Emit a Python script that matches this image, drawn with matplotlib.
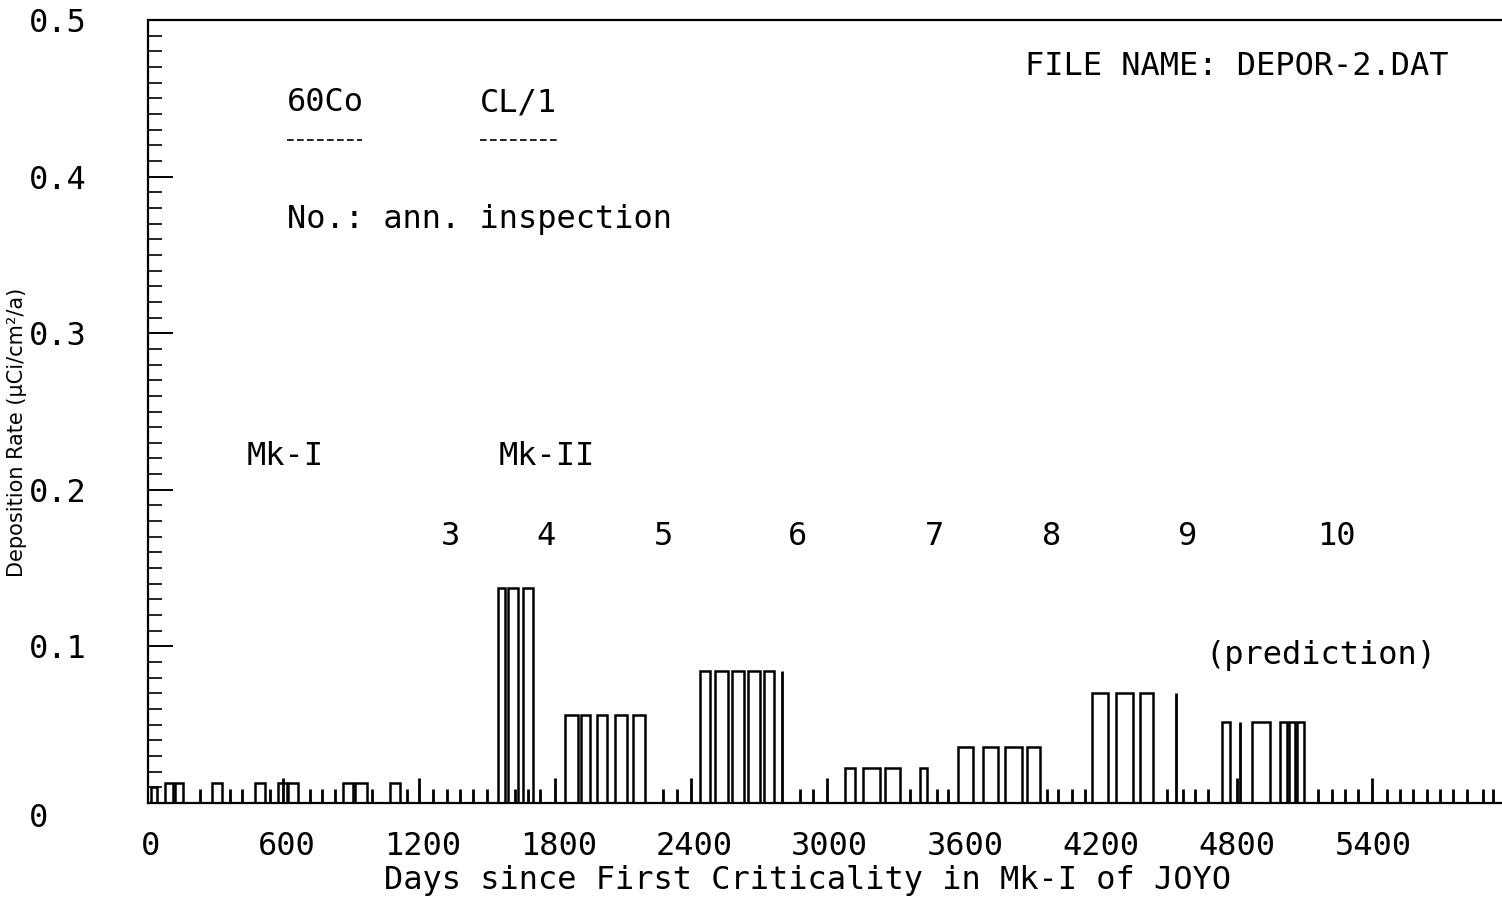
import numpy as np
import matplotlib.pyplot as plt
from matplotlib.ticker import MultipleLocator

# bars: left edge (days), width (days), deposition rate
bar_left = [1, 63, 107, 271, 461, 562, 607, 850, 902, 1057,
            1534, 1578, 1644,
            1830, 1901, 1972, 2051, 2130,
            2426, 2492, 2568, 2639, 2709,
            3067, 3147, 3243, 3398,
            3565, 3676, 3773, 3871,
            4158, 4264, 4370,
            4732, 4865, 4988, 5028, 5063]
bar_width = [27, 36, 36, 44, 44, 40, 44, 44, 53, 44,
             31, 45, 45,
             58, 40, 44, 53, 53,
             44, 58, 53, 53, 44,
             44, 75, 67, 31,
             67, 66, 75, 57,
             71, 75, 58,
             35, 79, 31, 26, 31]
bar_height = [0.010, 0.0128, 0.0128, 0.0128, 0.0128, 0.0128, 0.0128, 0.0128, 0.0128, 0.0128,
              0.137, 0.137, 0.137,
              0.056, 0.056, 0.056, 0.056, 0.056,
              0.084, 0.084, 0.084, 0.084, 0.084,
              0.0224, 0.0224, 0.0224, 0.0224,
              0.036, 0.036, 0.036, 0.036,
              0.070, 0.070, 0.070,
              0.052, 0.052, 0.052, 0.052, 0.052]

# short single-day spikes
spike_day = [218, 350, 403, 527, 584, 703, 756, 814, 977, 1132, 1185, 1247, 1309, 1366,
             1424, 1486, 1609, 1667, 1720, 1786, 2263, 2324, 2386, 2789, 2868, 2925,
             2987, 3354, 3473, 3522, 3959, 4007, 4069, 4126, 4489, 4529, 4560, 4613,
             4670, 4798, 4811, 5156, 5218, 5275, 5333, 5394, 5460, 5518, 5575, 5637,
             5695, 5752, 5814, 5885, 5929]
spike_height = [0.009, 0.009, 0.009, 0.009, 0.016, 0.009, 0.009, 0.009, 0.009, 0.009,
                0.016, 0.009, 0.009, 0.009, 0.009, 0.009, 0.009, 0.009, 0.009, 0.016,
                0.009, 0.009, 0.016, 0.084, 0.009, 0.009, 0.016, 0.009, 0.009, 0.009,
                0.009, 0.009, 0.009, 0.009, 0.009, 0.070, 0.009, 0.009, 0.009, 0.016,
                0.052, 0.009, 0.009, 0.009, 0.009, 0.016, 0.009, 0.009, 0.009, 0.009,
                0.009, 0.009, 0.009, 0.009, 0.009]

# annual inspection numbers
insp_label = ["3", "4", "5", "6", "7", "8", "9", "10"]
insp_day = [1322, 1746, 2263, 2859, 3464, 3981, 4582, 5240]
insp_y = 0.170

xticks = [0, 600, 1200, 1800, 2400, 3000, 3600, 4200, 4800, 5400]
yticks = [0, 0.1, 0.2, 0.3, 0.4, 0.5]
ytick_labels = ["0", "0.1", "0.2", "0.3", "0.4", "0.5"]

mono = "DejaVu Sans Mono"
fs = 23

fig = plt.figure(figsize=(15.02, 9.06), dpi=100)
ax = fig.add_axes([148 / 1502, 103 / 906, 1354 / 1502, 783 / 906])

ax.bar(bar_left, bar_height, width=bar_width, align="edge",
       fill=False, edgecolor="black", linewidth=1.8)
ax.vlines(spike_day, 0, spike_height, color="black", linewidth=2)

ax.set_xlim(-12, 5970)
ax.set_ylim(0, 0.5)

ax.spines["right"].set_visible(False)
for s in ["left", "top", "bottom"]:
    ax.spines[s].set_linewidth(1.6)

ax.set_xticks(xticks)
ax.set_xticklabels([str(t) for t in xticks], fontfamily=mono, fontsize=fs)
ax.tick_params(axis="x", length=0, pad=20)

ax.set_yticks(yticks)
ax.set_yticklabels(ytick_labels, fontfamily=mono, fontsize=fs, ha="left")
ax.yaxis.set_minor_locator(MultipleLocator(0.01))
ax.tick_params(axis="y", which="major", direction="in", length=18, width=1.4, pad=86)
ax.tick_params(axis="y", which="minor", direction="in", length=10, width=1.2)
# the zero label sits a little lower and further right in the original
zero_lab = ax.get_yticklabels()[0]
zero_lab.set_x(0.0)
zero_lab.set_va("top")

fig.text(808 / 1502, 26 / 906, "Days since First Criticality in Mk-I of JOYO",
         fontfamily=mono, fontsize=fs, ha="center", va="center")
fig.text(17 / 1502, 474 / 906, "Deposition Rate (μCi/cm²/a)",
         fontfamily="DejaVu Sans", fontsize=15, rotation=90, ha="center", va="center")

tf = ax.transAxes
ax.text(0.648, 0.941, "FILE NAME: DEPOR-2.DAT", transform=tf,
        fontfamily=mono, fontsize=fs, va="center")
ax.text(0.1027, 0.894, "60Co", transform=tf, fontfamily=mono, fontsize=fs, va="center")
ax.text(0.245, 0.894, "CL/1", transform=tf, fontfamily=mono, fontsize=fs, va="center")
ax.plot([0.1027, 0.158], [0.847, 0.847], transform=tf, color="black",
        linestyle=(0, (4, 2)), linewidth=1.2)
ax.plot([0.245, 0.302], [0.847, 0.847], transform=tf, color="black",
        linestyle=(0, (4, 2)), linewidth=1.2)
ax.text(0.1027, 0.745, "No.: ann. inspection", transform=tf,
        fontfamily=mono, fontsize=fs, va="center")
ax.text(0.0731, 0.442, "Mk-I", transform=tf, fontfamily=mono, fontsize=fs, va="center")
ax.text(0.259, 0.442, "Mk-II", transform=tf, fontfamily=mono, fontsize=fs, va="center")
ax.text(0.781, 0.189, "(prediction)", transform=tf, fontfamily=mono, fontsize=fs, va="center")

for lab, d in zip(insp_label, insp_day):
    ax.text(d, insp_y, lab, fontfamily=mono, fontsize=fs, ha="center", va="center")

fig.savefig("out.png", dpi=100)
